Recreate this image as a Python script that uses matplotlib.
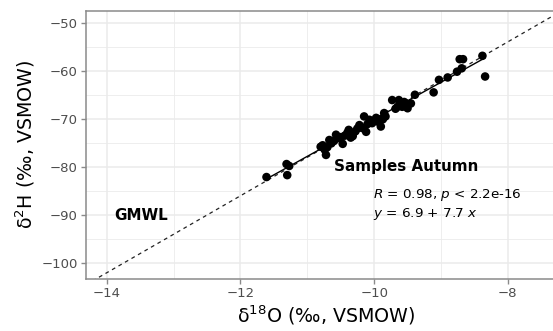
import numpy as np
import matplotlib
matplotlib.use("Agg")
import matplotlib.pyplot as plt
from matplotlib.ticker import MultipleLocator

# Autumn isotope samples: d18O and d2H (permil, VSMOW)
d18o = [-11.61, -11.31, -11.27, -11.30,
        -10.80, -10.77, -10.72, -10.74, -10.70, -10.67, -10.64, -10.60,
        -10.57, -10.53, -10.50, -10.47, -10.44, -10.40, -10.38, -10.35,
        -10.32, -10.28, -10.25, -10.22, -10.18, -10.15, -10.12, -10.10,
        -10.07, -10.03, -10.00, -9.97, -9.94, -9.90, -9.87, -9.85, -9.83,
        -9.73, -9.68, -9.65, -9.63, -9.58, -9.55, -9.50, -9.45, -9.39,
        -9.11, -9.03, -8.90, -8.76, -8.69, -8.72, -8.67, -8.38, -8.34]
d2h = [-82.1, -79.4, -79.8, -81.7,
       -75.8, -75.5, -77.5, -76.4, -75.9, -74.4, -75.1, -74.6,
       -73.3, -74.0, -73.8, -75.2, -73.5, -72.9, -72.3, -73.9,
       -73.6, -72.6, -72.0, -71.3, -71.9, -69.5, -72.7, -71.1,
       -70.2, -70.9, -70.4, -69.8, -70.6, -71.6, -70.1, -68.8, -69.5,
       -66.1, -67.9, -67.5, -66.1, -67.5, -66.5, -67.8, -66.8, -65.0,
       -64.5, -61.9, -61.4, -60.2, -59.5, -57.6, -57.6, -56.9, -61.2]

# Fitted line and Global Meteoric Water Line
fit_intercept, fit_slope = 6.9, 7.7
gmwl_intercept, gmwl_slope = 10.0, 8.0
r_value = "0.98"
p_text = "2.2e-16"

xlim = (-14.31, -7.13)
ylim = (-103.3, -47.5)

fig = plt.figure(figsize=(5.53, 3.31), dpi=100)
# panel runs slightly past the right edge of the canvas
ax = fig.add_axes([0.1555, 0.157, 0.868, 0.811])

grid_col = "#ebebeb"
ax.xaxis.set_major_locator(MultipleLocator(2))
ax.xaxis.set_minor_locator(MultipleLocator(1))
ax.yaxis.set_major_locator(MultipleLocator(10))
ax.yaxis.set_minor_locator(MultipleLocator(5))
ax.grid(True, which="major", color=grid_col, linewidth=1.1)
ax.grid(True, which="minor", color=grid_col, linewidth=0.6)
ax.set_axisbelow(True)

gx = np.array(xlim)
ax.plot(gx, gmwl_intercept + gmwl_slope * gx, color="#222222",
        linestyle=(0, (3, 3)), linewidth=0.9, zorder=2)

fx = np.array([min(d18o), max(d18o)])
ax.plot(fx, fit_intercept + fit_slope * fx, color="black", linewidth=1.0, zorder=3)

ax.scatter(d18o, d2h, s=38, color="black", edgecolors="none", zorder=4)

ax.set_xlim(*xlim)
ax.set_ylim(*ylim)

for side in ("left", "bottom", "top"):
    ax.spines[side].set_color("#8a8a8a")
    ax.spines[side].set_linewidth(1.1)
ax.spines["right"].set_visible(False)
ax.tick_params(which="major", colors="#8a8a8a", labelcolor="#4d4d4d",
               labelsize=9.5, length=3.5, width=1.0, pad=2.5)
ax.tick_params(which="minor", length=0)

ax.set_xlabel("δ$^{18}$O (‰, VSMOW)", fontsize=13.7, labelpad=2)
ax.set_ylabel("δ$^{2}$H (‰, VSMOW)", fontsize=13.7, labelpad=3)

ax.text(-10.6, -80.0, "Samples Autumn", fontsize=10.9, fontweight="bold",
        ha="left", va="center")
ax.text(-13.88, -90.0, "GMWL", fontsize=10.9, fontweight="bold",
        ha="left", va="center")
ax.text(-10.01, -85.8, f"$R$ = {r_value}, $p$ < {p_text}", fontsize=9.7,
        ha="left", va="center")
ax.text(-10.01, -89.8, f"$y$ = {fit_intercept} + {fit_slope} $x$", fontsize=9.7,
        ha="left", va="center")

fig.savefig("out.png", dpi=100)
